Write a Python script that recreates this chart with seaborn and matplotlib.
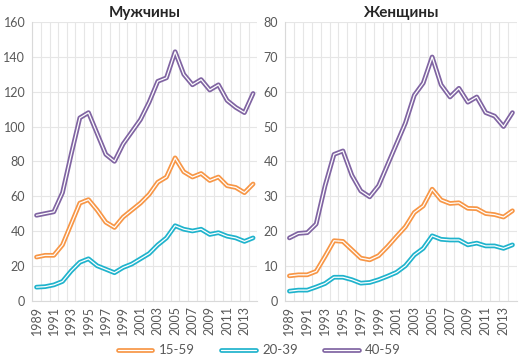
import matplotlib
matplotlib.use('Agg')
import matplotlib.pyplot as plt
import matplotlib.patheffects as pe
from matplotlib.lines import Line2D
import numpy as np
import pandas as pd
import seaborn as sns

years = list(range(1989, 2015))
groups = ['15-59', '20-39', '40-59']
colors = ['#F79646', '#1FB3CC', '#8064A2']

# мужчины
men_15_59 = [25, 26, 26, 32, 44, 56, 58, 52, 45, 42, 48, 52, 56, 61, 68, 71, 82, 74, 71, 73, 69, 71, 66, 65, 62, 67]
men_20_39 = [7.7, 8, 9, 11, 17, 22, 24, 20, 18, 16, 19, 21, 24, 27, 32, 36, 43, 41, 40, 41, 38, 39, 37, 36, 34, 36]
men_40_59 = [49, 50, 51, 62, 84, 105, 108, 96, 84, 80, 90, 97, 104, 114, 126, 128, 143, 130, 124, 127, 121, 124, 115, 111, 108, 119]

# женщины
women_15_59 = [7.1, 7.4, 7.4, 8.4, 12.7, 17.2, 17, 14.6, 12.2, 11.7, 12.9, 15.5, 18.4, 21.2, 25.3, 27.2, 32, 28.9, 27.9, 28.1, 26.5, 26.4, 25, 24.7, 24, 25.8]
women_20_39 = [2.7, 3, 3, 3.9, 4.9, 6.7, 6.7, 6, 5, 5.2, 6, 7, 8.1, 10, 13.1, 15, 18.6, 17.6, 17.4, 17.4, 16, 16.5, 15.7, 15.7, 15, 16]
women_40_59 = [18, 19.3, 19.5, 22, 33, 42, 43, 36, 31.5, 29.8, 33, 39, 45, 51, 59, 62.5, 70, 62, 58.5, 61, 57, 58.5, 54, 53, 50, 54]


def make_frame(s1, s2, s3):
    parts = []
    for g, vals in zip(groups, [s1, s2, s3]):
        parts.append(pd.DataFrame({'year': years, 'value': vals, 'group': g}))
    return pd.concat(parts, ignore_index=True)


def double_line(color):
    return [pe.Stroke(linewidth=3.4, foreground=color), pe.Stroke(linewidth=0.9, foreground='white')]


sns.set_style('white')
plt.rcParams['font.family'] = ['Lato', 'DejaVu Sans']

fig = plt.figure(figsize=(5.19, 3.63), dpi=100)
ax1 = fig.add_axes([0.062, 0.172, 0.434, 0.767])
ax2 = fig.add_axes([0.549, 0.172, 0.447, 0.767])

panels = [
    (ax1, make_frame(men_15_59, men_20_39, men_40_59), 'Мужчины', 160, 20),
    (ax2, make_frame(women_15_59, women_20_39, women_40_59), 'Женщины', 80, 10),
]

for ax, df, title, ymax, step in panels:
    sns.lineplot(data=df, x='year', y='value', hue='group', palette=colors,
                 linewidth=3.4, ax=ax, legend=False)
    for line, c in zip(ax.get_lines(), colors):
        line.set_path_effects(double_line(c))
    ax.set_xlim(1988.5, 2014.5)
    ax.set_ylim(0, ymax)
    ax.set_yticks(np.arange(0, ymax + 1, step))
    ax.set_xticks(range(1989, 2014, 2))
    ax.set_xticks(np.arange(1988.5, 2015, 1), minor=True)
    ax.grid(True, which='major', axis='y', color='#E6E6E6', linewidth=0.8)
    ax.grid(True, which='minor', axis='x', color='#E6E6E6', linewidth=0.8)
    ax.set_axisbelow(True)
    for side in ['top', 'right']:
        ax.spines[side].set_visible(False)
    ax.spines['left'].set_color('#D9D9D9')
    ax.spines['bottom'].set_color('#D9D9D9')
    ax.tick_params(axis='x', which='major', length=0, rotation=90, labelsize=9,
                   labelcolor='#595959', pad=4)
    ax.tick_params(axis='x', which='minor', length=4, color='#D9D9D9', direction='out')
    ax.tick_params(axis='y', length=0, labelsize=9, labelcolor='#595959', pad=5)
    ax.set_xlabel('')
    ax.set_ylabel('')
    ax.set_title(title, fontsize=11, fontweight='bold', pad=4)

handles = [Line2D([], [], color='white', linewidth=0.9) for c in colors]
for h, c in zip(handles, colors):
    h.set_path_effects(double_line(c))
fig.legend(handles, groups, loc='center', bbox_to_anchor=(0.5, 0.035), ncol=3,
           frameon=False, fontsize=9.5, labelcolor='#595959', handlelength=2.6,
           columnspacing=2.0, handletextpad=0.5)

fig.savefig('out.png', dpi=100)
